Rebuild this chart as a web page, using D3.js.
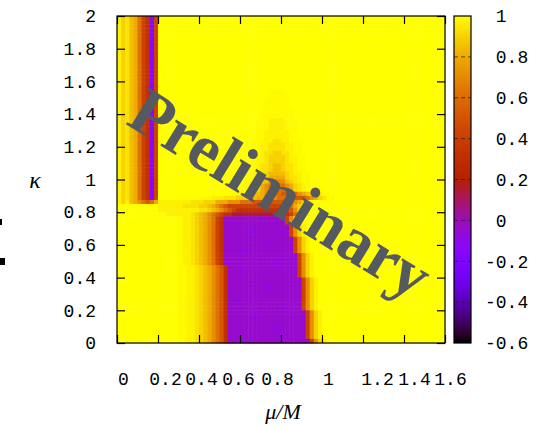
<!DOCTYPE html>
<html>
<head>
<meta charset="utf-8">
<script src="https://cdn.jsdelivr.net/npm/d3@7"></script>
<style>
html, body { margin: 0; padding: 0; background: #fff; }
svg { display: block; }
</style>
</head>
<body>
<svg id="chart" width="555" height="428"></svg>
<script>
// level symbols used in the rows below
const levelValues = {
    ".": 1.0, "`": 0.99, ",": 0.97, "y": 0.94, "g": 0.90, "G": 0.85, "o": 0.80, "O": 0.72,
    "n": 0.62, "r": 0.52, "R": 0.42, "d": 0.32, "m": 0.15, "p": -0.04, "q": -0.09, "v": -0.15
};
const muStep = 0.02;      // cell width in mu/M
const kappaStep = 0.025;  // cell height in kappa

// one run-length string per kappa row, from kappa = 2 down to kappa = 0
// token = level symbol + number of mu cells
const kappaRows = [
    ", g y G o n R d v R .70",
    ", g y G o n R d v R .70",
    ", g y G o n R d v R .70",
    ", g y G o n R d v R .70",
    ", g y G o n R d v R .70",
    ", g y G o n R d v R .70",
    ", g y G o n R d v R .70",
    ", g y G o n R d v R .70",
    ", g y G o n R d v R .70",
    ", g y G o n R d v R .70",
    ", g y G o n R d v R .70",
    ", g y G o n R d v R .70",
    ", g y G o n R d v R .70",
    ", g y G o n R d v R .70",
    ", g y G o n R d v R .70",
    ", g y G o n R d v R .70",
    ", g y G o n R d v R .70",
    ", g y G o n R d v R .70",
    ", g y G o n R d v R .27 `4 .39",
    ", g y G o n R d v R .27 `4 .39",
    ", g y G o n R d v R .26 `6 .38",
    ", g y G o n R d v R .26 `6 .38",
    ", g y G o n R d v R .26 `6 .38",
    ", g y G o n R d v R .25 `8 .37",
    ", g y G o n R d v R .25 `8 .37",
    ", g y G o n R d v R .24 `3 ,4 `3 .36",
    ", g y G o n R d v R .24 `3 ,4 `3 .36",
    ", g y G o n R d v R .24 `3 ,4 `3 .36",
    ", g y G o n R d v R .24 `2 ,6 `2 .36",
    ", g y G o n R d v R .24 `2 ,6 `2 .36",
    ", g y G o n R d v R .23 `3 ,2 y2 ,2 `3 .35",
    ", g y G o n R d v R .23 `2 ,2 y4 ,2 `2 .35",
    ", g y G o n R d v R .23 `2 ,2 y4 ,2 `2 .35",
    ", g y G o n R d v R .23 `2 ,1 y2 g2 y2 ,1 `2 .35",
    ", g y G o n R d v R .22 `2 ,2 y1 g4 y1 ,2 `2 .34",
    ", g y G o n R d v R .22 `2 ,2 y1 g4 y1 ,2 `2 .34",
    ", g y G o n R d v R .22 `2 ,1 y2 g1 G2 g1 y2 ,1 `2 .34",
    ", g y G o n R d v R .22 `2 ,1 y2 g1 G2 g1 y2 ,1 `2 .34",
    ", g y G o n R d v R .21 `2 ,2 y1 g1 G4 g1 y1 ,2 `2 .33",
    ", g y G o n R d v R .21 `2 ,1 y2 g1 o4 g1 y2 ,1 `2 .33",
    ", g y G o n R d v R .21 `2 ,1 y1 g1 G1 O4 G1 g1 y1 ,1 `2 .33",
    ", g y G o n R d v R .20 `2 ,1 y1 g1 o1 O1 n4 O1 o1 g1 y1 ,1 `2 .32",
    ", g y G o n R d v R .20 `2 ,1 y1 g1 o1 O1 n4 O1 o1 g1 y1 ,1 `2 .32",
    ", g y G o n R d v R .18 `2 ,2 y1 G2 o1 O2 n2 r2 n2 O1 o1 G1 y1 ,2 `2 .29",
    ", g y G o n R d v R .10 `3 ,3 y3 g3 G2 o2 O3 n4 r3 n1 O1 o1 g1 y1 `2 .28",
    ", g , G o O n r n o ,8 y3 g3 o3 O3 n3 r9 n1 O1 o1 g1 ,1 .33",
    ".10 ,6 y4 g2 G1 o1 O1 n1 r1 R14 r1 n1 o1 g1 ,1 .34",
    ".10 ,10 y2 g1 G1 o1 O1 n1 r1 R1 d12 R1 r1 O1 g1 ,1 .34",
    ".12 ,6 y1 g1 G1 o1 O1 n1 r1 R1 d2 m13 d1 R1 n1 O1 g1 ,1 .33",
    ".15 `1 ,2 y1 g1 G1 o1 O1 n1 R1 d1 p15 R1 O1 g1 ,1 .35",
    ".15 `1 ,2 y1 g1 G1 o1 O1 n1 R1 d1 p15 R1 O1 g1 ,1 .35",
    ".15 `1 ,2 y1 g1 G1 o1 O1 n1 R1 d1 p16 R1 O1 g1 ,1 .34",
    ".15 `1 ,2 y1 g1 G1 o1 O1 n1 R1 d1 p6 q2 p8 R1 O1 g1 ,1 .34",
    ".15 `1 ,2 y1 g1 G1 o1 O1 n1 R1 d1 p16 R1 O1 g1 ,1 .34",
    ".15 `1 ,2 y1 g1 G1 o1 O1 n1 R1 d1 p17 R1 O1 g1 ,1 .33",
    ".15 `1 ,2 y1 g1 G1 o1 O1 n1 R1 d1 p10 q1 p6 R1 O1 g1 ,1 .33",
    ".15 `1 ,2 y1 g1 G1 o1 O1 n1 R1 d1 p17 R1 O1 g1 ,1 .33",
    ".15 `1 ,2 y1 g1 G1 o1 O1 n1 R1 d1 p4 q2 p11 R1 O1 g1 ,1 .33",
    ".15 `1 ,2 y1 g1 G1 o1 O1 n1 R1 d1 p18 R1 O1 g1 ,1 .32",
    ".15 `1 ,2 y1 g1 G1 o1 O1 n1 R1 d1 p18 R1 O1 g1 ,1 .32",
    ".15 `1 ,2 y1 g1 G1 o1 O1 n1 R1 d1 p12 q2 p4 R1 O1 g1 ,1 .32",
    ".15 `2 ,2 y1 g1 G1 o1 O1 n1 r1 d1 p17 R1 O1 g1 ,1 .32",
    ".15 `2 ,2 y1 g1 G1 o1 O1 n1 r1 d1 p3 q1 p13 R1 O1 g1 ,1 .32",
    ".15 `2 ,2 y1 g1 G1 o1 O1 n1 r1 d1 p17 R1 O1 g1 ,1 .32",
    ".15 `2 ,2 y1 g1 G1 o1 O1 n1 r1 d1 p18 R1 O1 g1 ,1 .31",
    ".15 `2 ,2 y1 g1 G1 o1 O1 n1 r1 d1 p18 R1 O1 g1 ,1 .31",
    ".15 `2 ,2 y1 g1 G1 o1 O1 n1 r1 d1 p9 q2 p7 R1 O1 g1 ,1 .31",
    ".15 `2 ,2 y1 g1 G1 o1 O1 n1 r1 d1 p18 R1 O1 g1 ,1 .31",
    ".15 `2 ,2 y1 g1 G1 o1 O1 n1 r1 d1 p18 R1 O1 g1 ,1 .31",
    ".15 `2 ,2 y1 g1 G1 o1 O1 n1 r1 d1 p2 q1 p15 R1 O1 g1 ,1 .31",
    ".15 `2 ,2 y1 g1 G1 o1 O1 n1 r1 d1 p18 R1 O1 g1 ,1 .31",
    ".15 `2 ,2 y1 g1 G1 o1 O1 n1 r1 d1 p13 q1 p4 R1 O1 g1 ,1 .31",
    ".15 `2 ,2 y1 g1 G1 o1 O1 n1 r1 d1 p19 R1 O1 g1 ,1 .30",
    ".15 `2 ,2 y1 g1 G1 o1 O1 n1 r1 d1 p6 q2 p11 R1 O1 g1 ,1 .30",
    ".15 `2 ,2 y1 g1 G1 o1 O1 n1 r1 d1 p19 R1 O1 g1 ,1 .30",
    ".15 `2 ,2 y1 g1 G1 o1 O1 n1 r1 d1 p19 R1 O1 g1 ,1 .30",
    ".15 `2 ,2 y1 g1 G1 o1 O1 n1 r1 d1 p11 q2 p6 R1 O1 g1 ,1 .30",
    ".15 `2 ,2 y1 g1 G1 o1 O1 n1 r1 d1 p19 R1 O1 g1 ,1 .30",
    ".15 `2 ,2 y1 g1 G1 o1 O1 n1 r1 d1 p19 R1 O1 g1 ,1 .30",
    ".15 `2 ,2 y1 g1 G1 o1 O1 n1 r1 d1 p20 R1 O1 g1 ,1 .29"
];

const xTicks = [0, 0.2, 0.4, 0.6, 0.8, 1, 1.2, 1.4, 1.6];
const yTicks = [0, 0.2, 0.4, 0.6, 0.8, 1, 1.2, 1.4, 1.6, 1.8, 2];
const cbTicks = [-0.6, -0.4, -0.2, 0, 0.2, 0.4, 0.6, 0.8, 1];

const svg = d3.select("#chart");
const plot = { left: 117, right: 445, top: 16, bottom: 343 };
const monoFont = "'Liberation Mono', 'Courier New', monospace";

const x = d3.scaleLinear().domain([0, 1.6]).range([plot.left, plot.right]);
const y = d3.scaleLinear().domain([0, 2]).range([plot.bottom, plot.top]);

// gnuplot default pm3d palette (rgbformulae 7,5,15)
const palette = t => d3.rgb(
    255 * Math.sqrt(t),
    255 * t * t * t,
    255 * Math.max(0, Math.sin(2 * Math.PI * t))
);
const color = d3.scaleSequential(palette).domain([-0.6, 1]).clamp(true);

function decodeRow(row) {
    const cells = [];
    row.trim().split(/\s+/).forEach(tok => {
        const n = tok.length > 1 ? +tok.slice(1) : 1;
        for (let i = 0; i < n; i++) cells.push(levelValues[tok[0]]);
    });
    while (cells.length < 80) cells.push(1);
    return cells.slice(0, 80);
}

const cells = [];
kappaRows.forEach((row, r) => {
    const kTop = 2 - r * kappaStep;
    decodeRow(row).forEach((v, c) => {
        cells.push({ mu: c * muStep, kTop: kTop, value: v });
    });
});

svg.append("g")
    .selectAll("rect")
    .data(cells)
    .enter()
    .append("rect")
    .attr("x", d => x(d.mu))
    .attr("y", d => y(d.kTop))
    .attr("width", d => x(d.mu + muStep) - x(d.mu) + 0.5)
    .attr("height", d => y(d.kTop - kappaStep) - y(d.kTop) + 0.5)
    .attr("fill", d => color(d.value));

// frame
svg.append("rect")
    .attr("x", plot.left).attr("y", plot.top)
    .attr("width", plot.right - plot.left).attr("height", plot.bottom - plot.top)
    .attr("fill", "none").attr("stroke", "#000").attr("stroke-width", 1.2);

// axes, gnuplot style inward ticks on all four sides
const xLabelShift = [6, 7, 2, -2, -4, 6, 14, 10, 5];

const gx = svg.append("g")
    .attr("transform", `translate(0,${plot.bottom})`)
    .call(d3.axisBottom(x).tickValues(xTicks).tickSize(-8).tickSizeOuter(0).tickPadding(29)
        .tickFormat(d3.format("~g")));
gx.selectAll("text").attr("dx", (d, i) => xLabelShift[i]);

svg.append("g")
    .attr("transform", `translate(${plot.left},0)`)
    .call(d3.axisLeft(y).tickValues(yTicks).tickSize(-8).tickSizeOuter(0).tickPadding(21)
        .tickFormat(d3.format("~g")));

svg.append("g")
    .attr("transform", `translate(0,${plot.top})`)
    .call(d3.axisTop(x).tickValues(xTicks).tickSize(-8).tickSizeOuter(0).tickFormat(""));

svg.append("g")
    .attr("transform", `translate(${plot.right},0)`)
    .call(d3.axisRight(y).tickValues(yTicks).tickSize(-8).tickSizeOuter(0).tickFormat(""));

svg.selectAll(".domain").remove();
svg.selectAll(".tick line").attr("stroke", "#000").attr("stroke-width", 1.2);
svg.selectAll(".tick text")
    .style("font-family", monoFont).style("font-size", "18px").attr("fill", "#000");

// axis titles
svg.append("text")
    .attr("x", 283).attr("y", 419)
    .attr("text-anchor", "middle")
    .style("font-family", "'Liberation Serif', serif").style("font-style", "italic").style("font-size", "22px")
    .text("μ/M");

svg.append("text")
    .attr("x", 35).attr("y", 188)
    .attr("text-anchor", "middle")
    .style("font-family", "'Liberation Serif', serif").style("font-style", "italic").style("font-size", "24px")
    .text("κ");

// colour box
const cb = { left: 454, width: 17 };
const cbScale = d3.scaleLinear().domain([-0.6, 1]).range([plot.bottom, plot.top]);

const grad = svg.append("defs").append("linearGradient")
    .attr("id", "cbgrad").attr("x1", 0).attr("y1", 1).attr("x2", 0).attr("y2", 0);
grad.selectAll("stop")
    .data(d3.range(0, 1.0001, 0.02))
    .enter()
    .append("stop")
    .attr("offset", d => d)
    .attr("stop-color", d => color(-0.6 + 1.6 * d));

svg.append("rect")
    .attr("x", cb.left).attr("y", plot.top)
    .attr("width", cb.width).attr("height", plot.bottom - plot.top)
    .attr("fill", "url(#cbgrad)")
    .attr("stroke", "#000").attr("stroke-width", 1.2);

svg.append("g")
    .selectAll("line")
    .data(cbTicks.slice(1, -1))
    .enter()
    .append("line")
    .attr("x1", cb.left).attr("x2", cb.left + cb.width)
    .attr("y1", d => cbScale(d)).attr("y2", d => cbScale(d))
    .attr("stroke", "#222").attr("stroke-width", 1)
    .attr("stroke-dasharray", "4,3").attr("opacity", 0.75);

const gcb = svg.append("g")
    .attr("transform", `translate(${cb.left + cb.width},0)`)
    .call(d3.axisRight(cbScale).tickValues(cbTicks).tickSize(0).tickPadding(14)
        .tickFormat(d => (d < 0 ? "-" : "\u00a0") + d3.format("~g")(Math.abs(d))));
gcb.select(".domain").remove();
gcb.selectAll("text")
    .style("font-family", monoFont).style("font-size", "18px").attr("fill", "#000");

// watermark
svg.append("text")
    .attr("transform", "translate(281,193) rotate(31.5)")
    .attr("text-anchor", "middle")
    .attr("dominant-baseline", "central")
    .style("font-family", "'Liberation Serif', 'Times New Roman', serif")
    .style("font-weight", "bold")
    .style("font-size", "66px")
    .attr("fill", "#555a60")
    .text("Preliminary");

// clipped fragments at the left edge
svg.append("rect").attr("x", 0).attr("y", 219).attr("width", 2).attr("height", 6).attr("fill", "#000");
svg.append("rect").attr("x", 0).attr("y", 258).attr("width", 5).attr("height", 7).attr("fill", "#000");
</script>
</body>
</html>
